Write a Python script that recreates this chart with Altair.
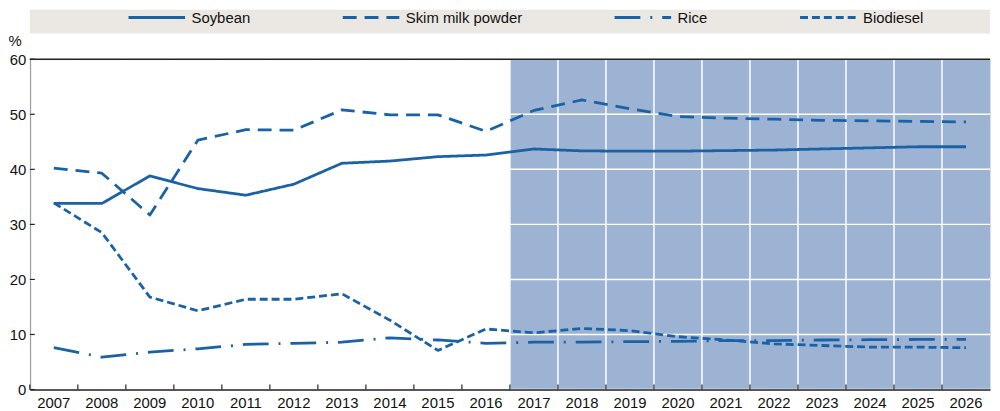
import altair as alt
import pandas as pd

years = [str(y) for y in range(2007, 2027)]
forecast_years = [str(y) for y in range(2017, 2027)]
series = ["Soybean", "Skim milk powder", "Rice", "Biodiesel"]
soybean = [33.8, 33.8, 38.8, 36.5, 35.3, 37.3, 41.1, 41.5, 42.3, 42.6,
           43.7, 43.35, 43.3, 43.3, 43.4, 43.5, 43.7, 43.9, 44.1, 44.1]
skim_milk_powder = [40.2, 39.3, 31.7, 45.3, 47.2, 47.1, 50.8, 49.9, 49.9, 46.9,
                    50.7, 52.6, 51.0, 49.6, 49.3, 49.1, 48.9, 48.8, 48.7, 48.6]
rice = [7.6, 5.9, 6.8, 7.4, 8.2, 8.4, 8.6, 9.4, 9.0, 8.4,
        8.6, 8.6, 8.7, 8.75, 8.9, 8.9, 9.0, 9.05, 9.1, 9.1]
biodiesel = [33.9, 28.5, 16.8, 14.3, 16.4, 16.4, 17.4, 12.6, 7.1, 11.0,
             10.3, 11.1, 10.7, 9.6, 9.0, 8.3, 8.0, 7.7, 7.7, 7.6]
y_ticks = [0, 10, 20, 30, 40, 50, 60]

values = {"Soybean": soybean, "Skim milk powder": skim_milk_powder,
          "Rice": rice, "Biodiesel": biodiesel}
df = pd.DataFrame([{"year": y, "series": s, "value": v}
                   for s in series for y, v in zip(years, values[s])])
df_fc = pd.DataFrame({"year": forecast_years})
df_years = pd.DataFrame({"year": years})
df_y = pd.DataFrame({"v": y_ticks})

W, H = 968, 333
FONT = "Liberation Sans, Arial, sans-serif"
FS = 15
LINE = "#1a62a6"
xscale = alt.Scale(type="band", domain=years, paddingInner=0, paddingOuter=0)
yscale = alt.Scale(domain=[0, 60])

box = alt.Chart(alt.Data(values=[{}])).mark_rect(color="#ebe8e3").encode(
    x=alt.value(0), x2=alt.value(W), y=alt.value(-50), y2=alt.value(-26))

shade = alt.Chart(df_fc).mark_rect(color="#9db3d3").encode(
    x=alt.X("year:O", scale=xscale,
            axis=alt.Axis(title=None, labelAngle=0, ticks=False, domainColor="#222",
                          domainWidth=1.5, labelPadding=6, labelFontSize=FS,
                          labelFont=FONT, labelColor="#111", grid=False)))

vgrid = alt.Chart(df_years).mark_rule(color="white", strokeWidth=1.5).encode(
    x=alt.X("year:O", scale=xscale, bandPosition=0))

hgrid = alt.Chart(df_y).mark_rule(color="white", strokeWidth=1.5).encode(
    y=alt.Y("v:Q", scale=yscale,
            axis=alt.Axis(title="%", titleAngle=0, titleX=-22, titleY=-19, titleAlign="left",
                          titleBaseline="middle", titleFont=FONT, titleFontSize=FS,
                          titleFontWeight="normal", titleColor="#111",
                          values=y_ticks, ticks=False, domainColor="#222", domainWidth=1.5,
                          labelPadding=4, labelFontSize=FS, labelFont=FONT,
                          labelColor="#111", grid=False)))

xticks = alt.Chart(df_years).mark_rule(color="#222", strokeWidth=1.2).encode(
    x=alt.X("year:O", scale=xscale, bandPosition=0), y=alt.value(H - 5), y2=alt.value(H))

yticks = alt.Chart(df_y).mark_rule(color="#222", strokeWidth=1.2).encode(
    y=alt.Y("v:Q", scale=yscale), x=alt.value(0), x2=alt.value(5))

topline = alt.Chart(alt.Data(values=[{}])).mark_rule(color="#222", strokeWidth=1.5).encode(
    x=alt.value(0), x2=alt.value(W), y=alt.value(0))

lines = alt.Chart(df).mark_line(color=LINE, strokeWidth=2.8, strokeJoin="round").encode(
    x=alt.X("year:O", scale=xscale, bandPosition=0.5),
    y=alt.Y("value:Q", scale=yscale),
    strokeDash=alt.StrokeDash(
        "series:N",
        scale=alt.Scale(domain=series, range=[[1, 0], [14, 8], [26, 10, 2, 10], [8, 4]]),
        legend=alt.Legend(title=None, orient="none", legendX=98, legendY=-72,
                          direction="horizontal", columnPadding=86,
                          symbolType="stroke", symbolSize=3249, symbolStrokeWidth=3,
                          symbolStrokeColor=LINE, labelFont=FONT, labelFontSize=FS,
                          labelColor="#111", labelOffset=5, labelLimit=300, padding=0)),
    detail="series:N",
)

chart = alt.layer(box, shade, vgrid, hgrid, xticks, yticks, topline, lines).properties(
    width=W, height=H,
    autosize=alt.AutoSizeParams(type="none"),
    padding={"left": 22, "top": 50, "right": 2, "bottom": 20},
).configure_view(fill="#f8f6f3", strokeWidth=0).configure(background="white")

chart.save("out.html", embed_options={"renderer": "svg", "actions": False})
